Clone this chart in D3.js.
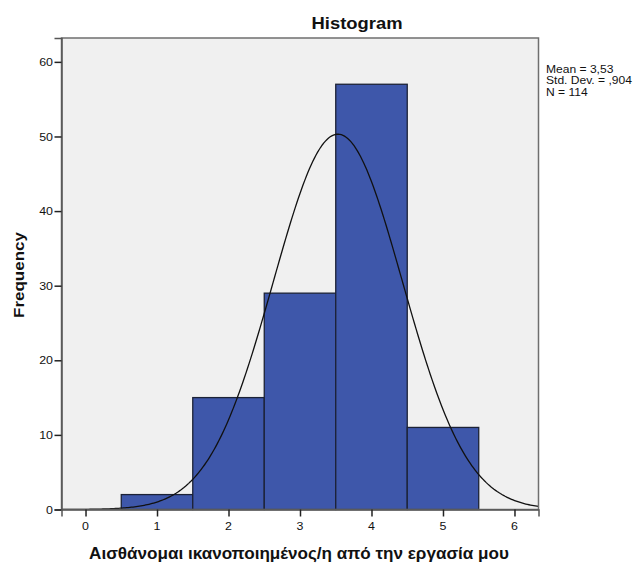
<!DOCTYPE html>
<html>
<head>
<meta charset="utf-8">
<script src="https://cdn.jsdelivr.net/npm/d3@7"></script>
<style>
  html, body { margin: 0; padding: 0; background: #ffffff; }
  text { font-family: "Liberation Sans", Arial, sans-serif; }
</style>
</head>
<body>
<svg id="chart" width="635" height="563"></svg>
<script>
// ---- data ----
const binCenters = [1, 2, 3, 4, 5];
const binCounts = [2, 15, 29, 57, 11];
const binWidth = 1;
const xTicks = [0, 1, 2, 3, 4, 5, 6];
const yTicks = [0, 10, 20, 30, 40, 50, 60];
const statMean = 3.53;
const statSD = 0.904;
const statN = 114;
const statLabels = ["Mean = 3,53", "Std. Dev. = ,904", "N = 114"];
const titleText = "Histogram";
const xLabel = "Αισθάνομαι ικανοποιημένος/η από την εργασία μου";
const yLabel = "Frequency";

// ---- layout ----
const L = 61.5, R = 538.5, T = 38, B = 509.5;
const svg = d3.select("#chart");

const x = d3.scaleLinear().domain([-0.336, 6.336]).range([L, R]);
const y = d3.scaleLinear().domain([0, 63.2]).range([B, T]);

// plot background
svg.append("rect").attr("x", L).attr("y", T).attr("width", R - L).attr("height", B - T)
  .attr("fill", "#f0f0f0");

// bars
svg.append("g").selectAll("rect").data(binCenters.map((c, i) => ({c, v: binCounts[i]})))
  .join("rect")
  .attr("x", d => x(d.c - binWidth / 2))
  .attr("y", d => y(d.v))
  .attr("width", d => x(d.c + binWidth / 2) - x(d.c - binWidth / 2))
  .attr("height", d => y(0) - y(d.v))
  .attr("fill", "#3e57aa")
  .attr("stroke", "#1c2236")
  .attr("stroke-width", 1.3);

// normal curve from mean, sd, N
const [d0, d1] = x.domain();
const nPts = 300;
const curvePts = d3.range(nPts + 1).map(i => {
  const xv = d0 + (d1 - d0) * i / nPts;
  const z = (xv - statMean) / statSD;
  return [xv, statN * binWidth / (statSD * Math.sqrt(2 * Math.PI)) * Math.exp(-0.5 * z * z)];
});
svg.append("path").datum(curvePts)
  .attr("d", d3.line().x(d => x(d[0])).y(d => y(d[1])).curve(d3.curveLinear))
  .attr("fill", "none").attr("stroke", "#111").attr("stroke-width", 1.3);

// plot frame
svg.append("rect").attr("x", L).attr("y", T).attr("width", R - L).attr("height", B - T)
  .attr("fill", "none").attr("stroke", "#6f6f6f").attr("stroke-width", 1.5);

// helper: text with horizontal stretch
function stext(g, str, tx, ty, size, weight, anchor, sx, rot) {
  const t = g.append("text").text(str)
    .attr("font-size", size).attr("font-weight", weight)
    .attr("text-anchor", anchor).attr("fill", "#111");
  let tr = `translate(${tx},${ty})`;
  if (rot) tr += ` rotate(${rot})`;
  tr += ` scale(${sx},1)`;
  t.attr("transform", tr);
  return t;
}
function fitWidth(t, target) {
  const w = t.node().getComputedTextLength();
  const sx = target / w;
  t.attr("transform", t.attr("transform").replace(/scale\([^)]*\)/, `scale(${sx},1)`));
}

// y axis
const yAxis = d3.axisLeft(y).tickValues(yTicks).tickSize(7).tickFormat(() => "");
const gy = svg.append("g").attr("transform", `translate(${L},0)`).call(yAxis);
gy.select(".domain").attr("stroke", "#555").attr("stroke-width", 1.5);
gy.selectAll(".tick line").attr("stroke", "#222").attr("stroke-width", 1.5);
yTicks.forEach(v => stext(svg, String(v), 53, y(v) + 4.2, 11.5, "normal", "end", 1.08));

// x axis
const xAxis = d3.axisBottom(x).tickValues(xTicks).tickSize(7).tickFormat(() => "");
const gx = svg.append("g").attr("transform", `translate(0,${B})`).call(xAxis);
gx.select(".domain").attr("stroke", "#555").attr("stroke-width", 1.5);
gx.selectAll(".tick line").attr("stroke", "#222").attr("stroke-width", 1.5);
xTicks.forEach(v => stext(svg, String(v), x(v), 530, 11.5, "normal", "middle", 1.08));

// title
const tt = stext(svg, titleText, 357, 28.7, 16, "bold", "middle", 1);
fitWidth(tt, 91);

// stats legend
statLabels.forEach((s, i) => stext(svg, s, 546, 72.5 + i * 11.8, 10.5, "normal", "start", 1.15));

// axis titles
const xl = stext(svg, xLabel, 299, 559, 16, "bold", "middle", 1);
fitWidth(xl, 420);
const yl = stext(svg, yLabel, 23.5, 275, 14.5, "bold", "middle", 1, -90);
fitWidth(yl, 86);
</script>
</body>
</html>
